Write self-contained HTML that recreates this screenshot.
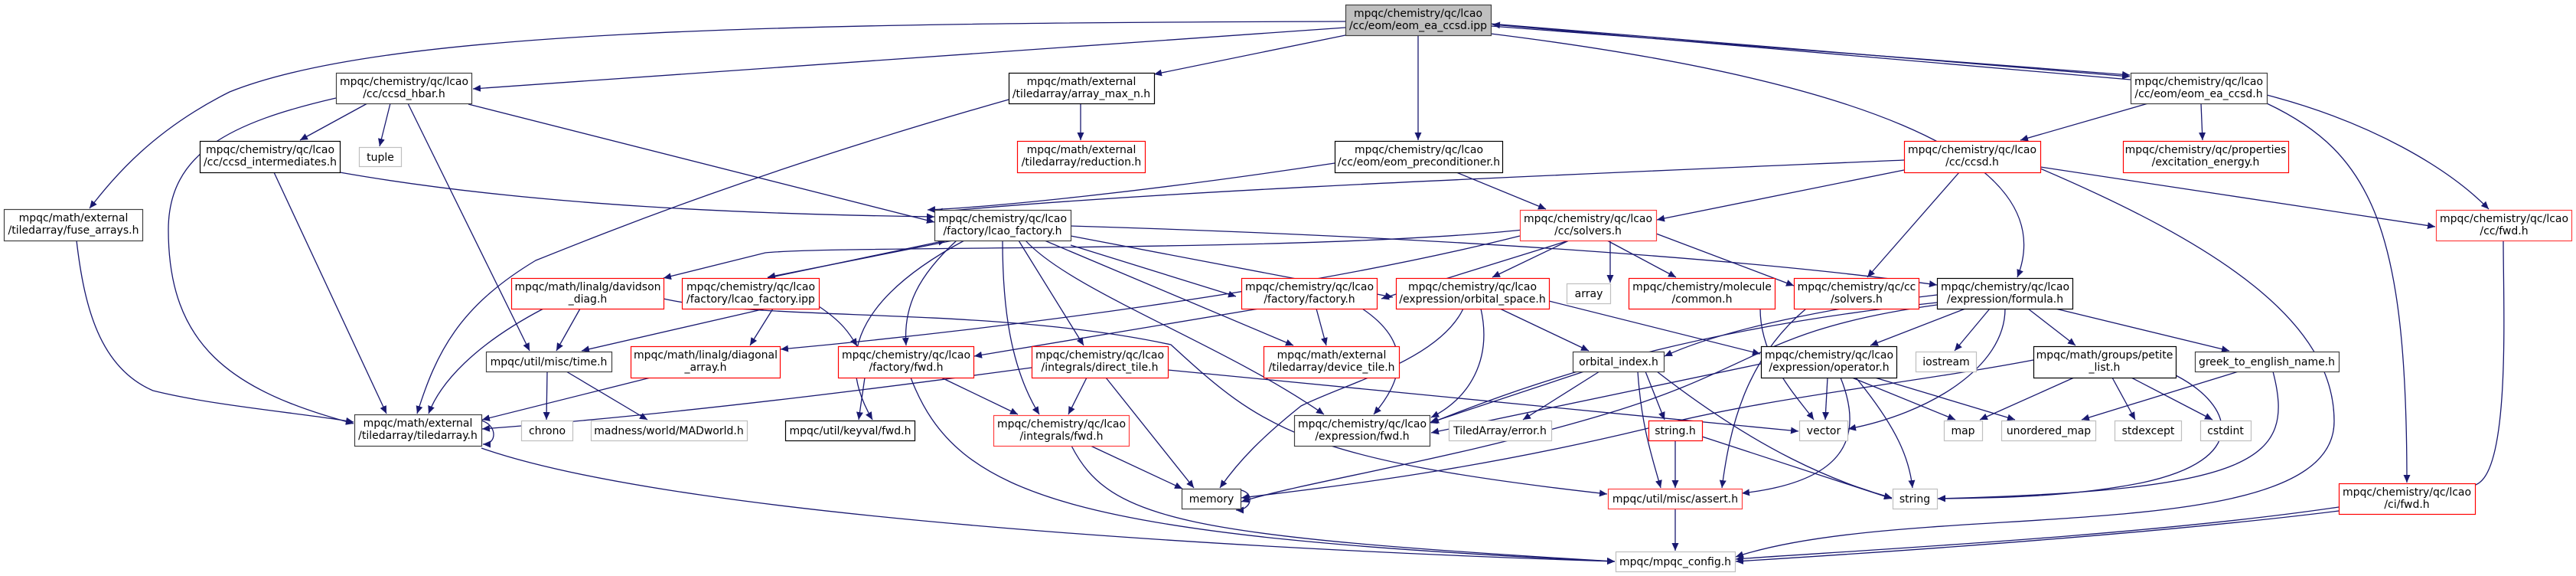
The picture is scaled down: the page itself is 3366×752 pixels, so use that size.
<!DOCTYPE html>
<html><head><meta charset="utf-8"><style>
html,body{margin:0;padding:0;background:#fff;}
svg{display:block;}
text{font-family:"DejaVu Sans","Liberation Sans",sans-serif;font-size:14px;fill:#000;text-anchor:middle;}
.e{fill:none;stroke:#191970;stroke-width:1.3;}
</style></head><body>
<svg width="3366" height="752" viewBox="0 0 3366 752" xmlns="http://www.w3.org/2000/svg">
<defs><marker id="a" viewBox="0 0 10 10" refX="10" refY="5" markerWidth="10" markerHeight="10" markerUnits="userSpaceOnUse" orient="auto"><path d="M0,0.5 L10,5 L0,9.5 z" fill="#191970"/></marker></defs>
<g class="e" marker-end="url(#a)">
<path d="M1758,36 L618,116"/>
<path d="M1758,28 C1000,30 500,40 300,120 C200,170 150,230 117,272"/>
<path d="M1758,46 L1508,97"/>
<path d="M1853,46 L1853,183"/>
<path d="M1948,31 L2783,100"/>
<path d="M1948,34 L2783,98"/>
<path d="M1948,44 C2400,100 2700,200 2636,362"/>
<path d="M2784,104 L1950,32"/>
<path d="M480,135 L392,183"/>
<path d="M510,135 L496,191"/>
<path d="M439,128 C300,160 220,200 220,300 C220,450 300,510 462,553"/>
<path d="M612,136 L1221,290"/>
<path d="M533,135 L692,458"/>
<path d="M444,225 C700,270 1000,280 1221,283"/>
<path d="M358,225 L505,540"/>
<path d="M100,314 C110,400 130,480 200,510 C280,530 400,540 462,551"/>
<path d="M1412,135 L1412,183"/>
<path d="M1318,130 C1000,220 800,300 700,340 C600,400 570,460 545,540"/>
<path d="M1744,213 C1500,250 1300,270 1212,274"/>
<path d="M1903,225 L2020,273"/>
<path d="M2807,135 L2640,183"/>
<path d="M2876,135 L2878,183"/>
<path d="M2962,124 C3100,160 3200,220 3252,273"/>
<path d="M2962,135 C3100,200 3145,300 3145,630"/>
<path d="M2488,209 C2000,230 1500,250 1222,277"/>
<path d="M2488,222 L2165,287"/>
<path d="M2560,225 L2440,362"/>
<path d="M2666,218 L3182,296"/>
<path d="M2666,220 C2900,320 3050,420 3050,550 C3050,720 2500,650 2268,727"/>
<path d="M1245,314 L1003,362"/>
<path d="M1003,363 L1236,314"/>
<path d="M1250,314 C1200,360 1180,400 1184,451"/>
<path d="M1310,314 C1310,400 1320,480 1358,541"/>
<path d="M1331,314 L1416,451"/>
<path d="M1340,314 C1400,380 1600,450 1730,541"/>
<path d="M1365,314 L1690,451"/>
<path d="M1399,320 L1615,387"/>
<path d="M1399,308 L1820,388"/>
<path d="M1399,295 C1900,310 2300,340 2531,372"/>
<path d="M1260,314 C1100,400 1100,480 1140,548"/>
<path d="M1990,300 C1700,330 1100,320 1000,330 C920,350 880,360 867,363"/>
<path d="M1986,308 C1700,380 1300,430 1020,456"/>
<path d="M2050,314 L1805,390"/>
<path d="M2050,314 L1950,362"/>
<path d="M2104,314 L2104,369"/>
<path d="M2100,314 L2190,362"/>
<path d="M2164,305 L2344,373"/>
<path d="M1000,403 L760,458"/>
<path d="M1010,403 L980,451"/>
<path d="M1070,400 C1100,420 1110,435 1120,452"/>
<path d="M710,403 C620,450 575,500 560,540"/>
<path d="M758,403 L727,458"/>
<path d="M867,390 C1000,420 1300,400 1530,450 C1650,560 1700,600 2100,645"/>
<path d="M715,485 L714,548"/>
<path d="M740,485 L846,548"/>
<path d="M850,493 L630,548"/>
<path d="M1130,493 L1122,548"/>
<path d="M1230,493 L1330,541"/>
<path d="M1190,493 C1250,650 1400,700 2110,733"/>
<path d="M1645,403 L1273,465"/>
<path d="M1720,403 L1733,451"/>
<path d="M1780,403 C1850,450 1830,500 1795,541"/>
<path d="M1960,403 L2076,458"/>
<path d="M1935,403 C1950,470 1920,520 1870,545"/>
<path d="M1912,403 C1880,470 1760,500 1700,530 C1650,570 1620,600 1594,637"/>
<path d="M2024,393 L2300,462"/>
<path d="M1420,493 L1396,541"/>
<path d="M1445,493 L1560,637"/>
<path d="M1526,483 L2350,563"/>
<path d="M1348,480 C1200,500 900,540 630,560"/>
<path d="M1425,582 L1545,638"/>
<path d="M1400,582 C1450,680 1550,700 2110,733"/>
<path d="M1610,640 C1640,635 1640,666 1615,666"/>
<path d="M629,549 C650,555 650,580 631,580"/>
<path d="M629,585 C900,680 1700,720 2110,733"/>
<path d="M2070,485 L1868,552"/>
<path d="M2090,485 L1990,548"/>
<path d="M2150,485 L2175,548"/>
<path d="M2140,485 C2145,560 2160,600 2170,637"/>
<path d="M2165,485 C2300,590 2400,630 2472,650"/>
<path d="M2189,575 L2189,637"/>
<path d="M2224,570 L2472,651"/>
<path d="M2189,664 L2189,719"/>
<path d="M2360,403 C2280,470 2260,560 2250,637"/>
<path d="M2300,403 C2300,470 2350,520 2370,548"/>
<path d="M2531,395 C2200,430 2000,500 1870,552"/>
<path d="M2531,385 C2400,400 2250,430 2175,465"/>
<path d="M2568,403 L2444,451"/>
<path d="M2600,403 L2554,458"/>
<path d="M2620,403 C2620,480 2520,540 2415,560"/>
<path d="M2650,403 L2712,451"/>
<path d="M2686,403 L2913,458"/>
<path d="M2531,398 C2300,430 2300,480 2100,540 C1900,600 1700,630 1622,655"/>
<path d="M2388,493 L2385,548"/>
<path d="M2420,493 L2555,548"/>
<path d="M2450,493 L2633,548"/>
<path d="M2425,493 C2480,560 2495,600 2499,637"/>
<path d="M2405,493 C2440,580 2400,630 2276,644"/>
<path d="M2301,475 L1870,565"/>
<path d="M2710,493 L2587,548"/>
<path d="M2760,493 L2790,548"/>
<path d="M2785,493 L2891,548"/>
<path d="M2843,490 C2920,530 2940,600 2800,630 C2700,650 2600,650 2532,651"/>
<path d="M2657,470 C2500,500 2300,520 2150,560 C1900,620 1700,640 1622,650"/>
<path d="M2925,485 L2720,548"/>
<path d="M2970,485 C3000,600 2950,640 2532,651"/>
<path d="M3271,314 C3271,400 3280,600 3240,630 C3200,660 2800,700 2268,733"/>
<path d="M3056,662 C2800,700 2400,720 2268,730"/>
</g>
<g stroke-width="1.2">
<rect x="1758.5" y="6.5" width="190" height="40" fill="#bfbfbf" stroke="#404040"/>
<rect x="439.5" y="95.5" width="177" height="40" fill="#fff" stroke="#404040"/>
<rect x="1318.5" y="95.5" width="190" height="40" fill="#fff" stroke="#000"/>
<rect x="2784.5" y="95.5" width="178" height="40" fill="#fff" stroke="#404040"/>
<rect x="261.5" y="184.5" width="183" height="41" fill="#fff" stroke="#000"/>
<rect x="469.5" y="192.5" width="55" height="25" fill="#fff" stroke="#bfbfbf"/>
<rect x="1329.5" y="184.5" width="167" height="41" fill="#fff" stroke="#ff0000"/>
<rect x="1744.5" y="184.5" width="219" height="41" fill="#fff" stroke="#000"/>
<rect x="2488.5" y="184.5" width="178" height="41" fill="#fff" stroke="#ff0000"/>
<rect x="2774.5" y="184.5" width="216" height="41" fill="#fff" stroke="#ff0000"/>
<rect x="5.5" y="273.5" width="181" height="41" fill="#fff" stroke="#404040"/>
<rect x="1221.5" y="274.5" width="178" height="40" fill="#fff" stroke="#404040"/>
<rect x="1986.5" y="274.5" width="178" height="40" fill="#fff" stroke="#ff4040"/>
<rect x="3183.5" y="274.5" width="177" height="40" fill="#fff" stroke="#ff4040"/>
<rect x="668.5" y="363.5" width="199" height="40" fill="#fff" stroke="#ff0000"/>
<rect x="891.5" y="363.5" width="179" height="40" fill="#fff" stroke="#ff0000"/>
<rect x="1622.5" y="363.5" width="177" height="40" fill="#fff" stroke="#ff0000"/>
<rect x="1824.5" y="363.5" width="200" height="40" fill="#fff" stroke="#ff0000"/>
<rect x="2047.5" y="370.5" width="57" height="26" fill="#fff" stroke="#bfbfbf"/>
<rect x="2128.5" y="363.5" width="191" height="40" fill="#fff" stroke="#ff0000"/>
<rect x="2344.5" y="363.5" width="163" height="40" fill="#fff" stroke="#ff0000"/>
<rect x="2531.5" y="363.5" width="177" height="40" fill="#fff" stroke="#000"/>
<rect x="635.5" y="459.5" width="164" height="26" fill="#fff" stroke="#404040"/>
<rect x="824.5" y="452.5" width="195" height="41" fill="#fff" stroke="#ff0000"/>
<rect x="1095.5" y="452.5" width="177" height="41" fill="#fff" stroke="#ff0000"/>
<rect x="1348.5" y="452.5" width="178" height="41" fill="#fff" stroke="#ff0000"/>
<rect x="1651.5" y="452.5" width="177" height="41" fill="#fff" stroke="#ff0000"/>
<rect x="2055.5" y="459.5" width="119" height="26" fill="#fff" stroke="#404040"/>
<rect x="2301.5" y="452.5" width="177" height="41" fill="#fff" stroke="#000"/>
<rect x="2503.5" y="459.5" width="79" height="26" fill="#fff" stroke="#bfbfbf"/>
<rect x="2657.5" y="452.5" width="186" height="41" fill="#fff" stroke="#000"/>
<rect x="2868.5" y="459.5" width="188" height="26" fill="#fff" stroke="#404040"/>
<rect x="463.5" y="541.5" width="166" height="41" fill="#fff" stroke="#404040"/>
<rect x="681.5" y="549.5" width="67" height="26" fill="#fff" stroke="#bfbfbf"/>
<rect x="772.5" y="549.5" width="204" height="26" fill="#fff" stroke="#bfbfbf"/>
<rect x="1026.5" y="549.5" width="169" height="26" fill="#fff" stroke="#000"/>
<rect x="1298.5" y="542.5" width="177" height="40" fill="#fff" stroke="#ff4040"/>
<rect x="1691.5" y="542.5" width="177" height="40" fill="#fff" stroke="#404040"/>
<rect x="1893.5" y="549.5" width="134" height="26" fill="#fff" stroke="#bfbfbf"/>
<rect x="2154.5" y="549.5" width="70" height="26" fill="#fff" stroke="#ff0000"/>
<rect x="2351.5" y="549.5" width="63" height="26" fill="#fff" stroke="#bfbfbf"/>
<rect x="2540.5" y="549.5" width="50" height="26" fill="#fff" stroke="#bfbfbf"/>
<rect x="2615.5" y="549.5" width="123" height="26" fill="#fff" stroke="#bfbfbf"/>
<rect x="2763.5" y="549.5" width="87" height="26" fill="#fff" stroke="#bfbfbf"/>
<rect x="2875.5" y="549.5" width="66" height="26" fill="#fff" stroke="#bfbfbf"/>
<rect x="1544.5" y="638.5" width="77" height="26" fill="#fff" stroke="#404040"/>
<rect x="2101.5" y="638.5" width="175" height="26" fill="#fff" stroke="#ff4040"/>
<rect x="2473.5" y="638.5" width="58" height="26" fill="#fff" stroke="#bfbfbf"/>
<rect x="3056.5" y="631.5" width="178" height="40" fill="#fff" stroke="#ff0000"/>
<rect x="2111.5" y="720.5" width="156" height="26" fill="#fff" stroke="#bfbfbf"/>
</g>
<g>
<text x="1853" y="22">mpqc/chemistry/qc/lcao</text><text x="1853" y="38">/cc/eom/eom_ea_ccsd.ipp</text>
<text x="528" y="111">mpqc/chemistry/qc/lcao</text><text x="528" y="127">/cc/ccsd_hbar.h</text>
<text x="1413" y="111">mpqc/math/external</text><text x="1413" y="127">/tiledarray/array_max_n.h</text>
<text x="2873" y="111">mpqc/chemistry/qc/lcao</text><text x="2873" y="127">/cc/eom/eom_ea_ccsd.h</text>
<text x="353" y="200">mpqc/chemistry/qc/lcao</text><text x="353" y="216">/cc/ccsd_intermediates.h</text>
<text x="497" y="210">tuple</text>
<text x="1413" y="200">mpqc/math/external</text><text x="1413" y="216">/tiledarray/reduction.h</text>
<text x="1854" y="200">mpqc/chemistry/qc/lcao</text><text x="1854" y="216">/cc/eom/eom_preconditioner.h</text>
<text x="2577" y="200">mpqc/chemistry/qc/lcao</text><text x="2577" y="216">/cc/ccsd.h</text>
<text x="2882" y="200">mpqc/chemistry/qc/properties</text><text x="2882" y="216">/excitation_energy.h</text>
<text x="96" y="289">mpqc/math/external</text><text x="96" y="305">/tiledarray/fuse_arrays.h</text>
<text x="1310" y="290">mpqc/chemistry/qc/lcao</text><text x="1310" y="306">/factory/lcao_factory.h</text>
<text x="2075" y="290">mpqc/chemistry/qc/lcao</text><text x="2075" y="306">/cc/solvers.h</text>
<text x="3272" y="290">mpqc/chemistry/qc/lcao</text><text x="3272" y="306">/cc/fwd.h</text>
<text x="768" y="379">mpqc/math/linalg/davidson</text><text x="768" y="395">_diag.h</text>
<text x="981" y="379">mpqc/chemistry/qc/lcao</text><text x="981" y="395">/factory/lcao_factory.ipp</text>
<text x="1711" y="379">mpqc/chemistry/qc/lcao</text><text x="1711" y="395">/factory/factory.h</text>
<text x="1924" y="379">mpqc/chemistry/qc/lcao</text><text x="1924" y="395">/expression/orbital_space.h</text>
<text x="2076" y="388">array</text>
<text x="2224" y="379">mpqc/chemistry/molecule</text><text x="2224" y="395">/common.h</text>
<text x="2426" y="379">mpqc/chemistry/qc/cc</text><text x="2426" y="395">/solvers.h</text>
<text x="2620" y="379">mpqc/chemistry/qc/lcao</text><text x="2620" y="395">/expression/formula.h</text>
<text x="717" y="477">mpqc/util/misc/time.h</text>
<text x="922" y="468">mpqc/math/linalg/diagonal</text><text x="922" y="484">_array.h</text>
<text x="1184" y="468">mpqc/chemistry/qc/lcao</text><text x="1184" y="484">/factory/fwd.h</text>
<text x="1437" y="468">mpqc/chemistry/qc/lcao</text><text x="1437" y="484">/integrals/direct_tile.h</text>
<text x="1740" y="468">mpqc/math/external</text><text x="1740" y="484">/tiledarray/device_tile.h</text>
<text x="2115" y="477">orbital_index.h</text>
<text x="2390" y="468">mpqc/chemistry/qc/lcao</text><text x="2390" y="484">/expression/operator.h</text>
<text x="2543" y="477">iostream</text>
<text x="2750" y="468">mpqc/math/groups/petite</text><text x="2750" y="484">_list.h</text>
<text x="2962" y="477">greek_to_english_name.h</text>
<text x="546" y="557">mpqc/math/external</text><text x="546" y="573">/tiledarray/tiledarray.h</text>
<text x="715" y="567">chrono</text>
<text x="874" y="567">madness/world/MADworld.h</text>
<text x="1111" y="567">mpqc/util/keyval/fwd.h</text>
<text x="1387" y="558">mpqc/chemistry/qc/lcao</text><text x="1387" y="574">/integrals/fwd.h</text>
<text x="1780" y="558">mpqc/chemistry/qc/lcao</text><text x="1780" y="574">/expression/fwd.h</text>
<text x="1960" y="567">TiledArray/error.h</text>
<text x="2189" y="567">string.h</text>
<text x="2383" y="567">vector</text>
<text x="2565" y="567">map</text>
<text x="2677" y="567">unordered_map</text>
<text x="2807" y="567">stdexcept</text>
<text x="2908" y="567">cstdint</text>
<text x="1583" y="656">memory</text>
<text x="2189" y="656">mpqc/util/misc/assert.h</text>
<text x="2502" y="656">string</text>
<text x="3145" y="647">mpqc/chemistry/qc/lcao</text><text x="3145" y="663">/ci/fwd.h</text>
<text x="2189" y="738">mpqc/mpqc_config.h</text>
</g>
</svg>
</body></html>
